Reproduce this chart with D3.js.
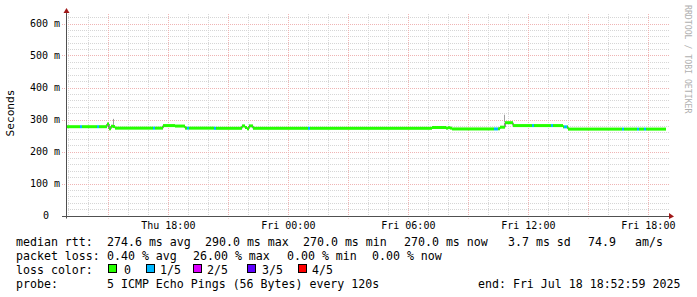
<!DOCTYPE html>
<html>
<head>
<meta charset="utf-8">
<script src="https://cdn.jsdelivr.net/npm/d3@7"></script>
<style>
  body { margin: 0; background: #fff; }
  svg { display: block; }
  text { font-family: "DejaVu Sans Mono", monospace; fill: #000; }
</style>
</head>
<body>
<svg id="chart"></svg>
<script>
// median rtt steps (local time, ms, lost pings out of 5)
var stepTimes = [
  "2025-07-17 12:53", "2025-07-17 13:35", "2025-07-17 13:41", "2025-07-17 14:26", "2025-07-17 14:32",
  "2025-07-17 14:56", "2025-07-17 15:02", "2025-07-17 15:08", "2025-07-17 15:14", "2025-07-17 15:20",
  "2025-07-17 17:14", "2025-07-17 17:20", "2025-07-17 17:44", "2025-07-17 18:20", "2025-07-17 18:50",
  "2025-07-17 18:56", "2025-07-17 19:02", "2025-07-17 20:17", "2025-07-17 20:23", "2025-07-17 21:41",
  "2025-07-17 21:50", "2025-07-17 21:56", "2025-07-17 22:02", "2025-07-17 22:14", "2025-07-18 00:59",
  "2025-07-18 01:05", "2025-07-18 07:11", "2025-07-18 07:53", "2025-07-18 07:59", "2025-07-18 08:05",
  "2025-07-18 08:11", "2025-07-18 10:17", "2025-07-18 10:29", "2025-07-18 10:35", "2025-07-18 10:50",
  "2025-07-18 11:14", "2025-07-18 12:11", "2025-07-18 12:17", "2025-07-18 13:08", "2025-07-18 13:14",
  "2025-07-18 13:44", "2025-07-18 13:47", "2025-07-18 13:56", "2025-07-18 13:59", "2025-07-18 16:41",
  "2025-07-18 16:47", "2025-07-18 17:26", "2025-07-18 17:32", "2025-07-18 17:47", "2025-07-18 17:53"
];
var stepMedian = [
  277.5, 277.5, 277.5, 277.5, 277.5,
  286, 271, 279, 278, 273,
  273, 273, 281, 279.5, 273,
  273, 273, 272.5, 272.5, 280,
  275, 271, 280, 272.5, 272.5,
  272.5, 275, 273, 274.5, 273,
  270.5, 270.5, 271, 276, 290,
  281, 281, 281, 281, 281,
  277, 277, 277, 270, 270,
  270, 270, 270, 270, 270
];
var stepLoss = [
  0, 1, 0, 1, 0,
  0, 0, 0, 0, 0,
  1, 0, 0, 0, 0,
  1, 0, 1, 0, 0,
  0, 0, 0, 0, 1,
  0, 0, 0, 0, 0,
  0, 1, 0, 0, 0,
  0, 1, 0, 1, 0,
  0, 1, 0, 0, 1,
  0, 1, 0, 1, 0
];
var graphStart = "2025-07-17 12:52:59";
var graphEnd = "2025-07-18 18:52:59";

// a few visible smoke spikes
var smokeTimes = ["2025-07-17 15:14", "2025-07-17 23:26", "2025-07-18 10:47"];
var smokeLow = [277, 272, 292];
var smokeHigh = [302, 277, 315];

var lossLabels = ["0", "1/5", "2/5", "3/5", "4/5"];
var lossColors = ["#26ff00", "#00b8ff", "#dd00ff", "#5e00ff", "#ff0000"];

var rttLegend = ["median rtt:", "274.6 ms avg", "290.0 ms max", "270.0 ms min", "270.0 ms now", "3.7 ms sd", "74.9", "am/s"];
var lossLegend = ["packet loss:", "0.40 % avg", "26.00 % max", "0.00 % min", "0.00 % now"];
var probeLegend = ["probe:", "5 ICMP Echo Pings (56 Bytes) every 120s", "end: Fri Jul 18 18:52:59 2025"];

var parse = d3.timeParse("%Y-%m-%d %H:%M");
var parseS = d3.timeParse("%Y-%m-%d %H:%M:%S");

var W = 697, H = 297;
var pLeft = 66, pRight = 666, pTop = 14, pBottom = 215.5;

var svg = d3.select("#chart").attr("width", W).attr("height", H);

var x = d3.scaleTime()
    .domain([parseS(graphStart), parseS(graphEnd)])
    .range([pLeft, pRight]);
var y = d3.scaleLinear()
    .domain([0, (pBottom - pTop) / 0.32])
    .range([pBottom, pTop]);

var grid = svg.append("g");
var minorCol = "#d6d6d6", majorCol = "#efb4b4";

// minor grid
x.ticks(d3.timeHour.every(1)).forEach(function(t) {
    if (t.getHours() % 3 === 0) return;
    grid.append("line")
        .attr("x1", Math.round(x(t)) + 0.5).attr("x2", Math.round(x(t)) + 0.5)
        .attr("y1", pTop).attr("y2", pBottom + 2)
        .attr("stroke", minorCol).attr("stroke-dasharray", "1,1");
});
d3.range(20, y.domain()[1], 20).forEach(function(v) {
    if (v % 100 === 0) return;
    grid.append("line")
        .attr("x1", pLeft).attr("x2", pRight + 3)
        .attr("y1", Math.round(y(v)) + 0.5).attr("y2", Math.round(y(v)) + 0.5)
        .attr("stroke", minorCol).attr("stroke-dasharray", "1,1");
});
// major grid
x.ticks(d3.timeHour.every(3)).forEach(function(t) {
    grid.append("line")
        .attr("x1", Math.round(x(t)) + 0.5).attr("x2", Math.round(x(t)) + 0.5)
        .attr("y1", pTop).attr("y2", pBottom + 3)
        .attr("stroke", majorCol).attr("stroke-dasharray", "1,1");
});
d3.range(100, y.domain()[1], 100).forEach(function(v) {
    grid.append("line")
        .attr("x1", pLeft - 4).attr("x2", pRight + 3)
        .attr("y1", Math.round(y(v)) + 0.5).attr("y2", Math.round(y(v)) + 0.5)
        .attr("stroke", majorCol).attr("stroke-dasharray", "1,1");
});

// y labels
d3.range(0, y.domain()[1], 100).forEach(function(v) {
    svg.append("text")
        .attr("x", v === 0 ? 49 : 60)
        .attr("y", y(v) + 3.5)
        .attr("text-anchor", "end")
        .style("font-size", "10px")
        .text(v === 0 ? "0" : v + " m");
});

// x labels
var fmt = d3.timeFormat("%a %H:%M");
x.ticks(d3.timeHour.every(6)).forEach(function(t) {
    svg.append("text")
        .attr("x", x(t))
        .attr("y", 229)
        .attr("text-anchor", "middle")
        .style("font-size", "10px")
        .text(fmt(t));
});

// data
var steps = stepTimes.map(function(s, i) {
    return {t: parse(s), v: stepMedian[i], loss: stepLoss[i]};
});
steps.forEach(function(d, i) {
    d.t2 = i < steps.length - 1 ? steps[i + 1].t : x.domain()[1];
});

var plot = svg.append("g");

smokeTimes.forEach(function(s, i) {
    var t = parse(s);
    plot.append("line")
        .attr("x1", Math.round(x(t)) + 0.5).attr("x2", Math.round(x(t)) + 0.5)
        .attr("y1", y(smokeLow[i])).attr("y2", y(smokeHigh[i]))
        .attr("stroke", "#a0a0a0");
});

var line = d3.line()
    .x(function(d) { return x(d.t); })
    .y(function(d) { return y(d.v); })
    .curve(d3.curveStepAfter);
plot.append("path")
    .datum(steps.concat([{t: x.domain()[1], v: steps[steps.length - 1].v}]))
    .attr("d", line)
    .attr("fill", "none")
    .attr("stroke", "#202020")
    .attr("stroke-width", 1);

plot.selectAll(".band")
    .data(steps)
    .enter().append("rect")
    .attr("class", "band")
    .attr("x", function(d) { return x(d.t); })
    .attr("width", function(d) { return x(d.t2) - x(d.t); })
    .attr("y", function(d) { return y(d.v) - 1.5; })
    .attr("height", 3)
    .attr("fill", function(d) { return lossColors[d.loss]; });

// axes with arrows
svg.append("line")
    .attr("x1", pLeft + 0.5).attr("x2", pLeft + 0.5)
    .attr("y1", pBottom + 3).attr("y2", 12)
    .attr("stroke", "#505050");
svg.append("line")
    .attr("x1", pLeft - 4).attr("x2", 670)
    .attr("y1", Math.round(pBottom) + 0.5).attr("y2", Math.round(pBottom) + 0.5)
    .attr("stroke", "#505050");
svg.append("path")
    .attr("d", "M" + (pLeft - 2.5) + ",13 L" + (pLeft + 0.5) + ",8 L" + (pLeft + 3.5) + ",13 Z")
    .attr("fill", "#a01818");
svg.append("path")
    .attr("d", "M669,213 L674," + (Math.round(pBottom) + 0.5) + " L669,219 Z")
    .attr("fill", "#a01818");

// y title
svg.append("text")
    .attr("transform", "translate(14,113) rotate(-90)")
    .attr("text-anchor", "middle")
    .style("font-size", "11.2px")
    .text("Seconds");

// watermark
svg.append("text")
    .attr("transform", "translate(685,5) rotate(90)")
    .style("font-size", "8.2px")
    .style("fill", "#b0b0b0")
    .text("RRDTOOL / TOBI OETIKER");

// legend
var legend = svg.append("g").style("font-size", "11.6px");
function row(items, xs, yy) {
    items.forEach(function(s, i) {
        legend.append("text").attr("x", xs[i]).attr("y", yy).text(s);
    });
}
row(rttLegend, [16, 107, 205, 303, 404, 508, 588, 635], 245.5);
row(lossLegend, [16, 107, 193, 287, 372], 259.5);
row(["loss color:"], [16], 273.5);
var boxX = [108, 146, 193, 247, 298];
var labX = [124, 160, 207, 262, 312];
lossLabels.forEach(function(l, i) {
    legend.append("rect")
        .attr("x", boxX[i] + 0.5).attr("y", 264.5)
        .attr("width", 8).attr("height", 8)
        .attr("fill", lossColors[i]).attr("stroke", "#000");
    legend.append("text").attr("x", labX[i]).attr("y", 273.5).text(l);
});
row(probeLegend, [16, 107, 478], 287.5);
</script>
</body>
</html>
